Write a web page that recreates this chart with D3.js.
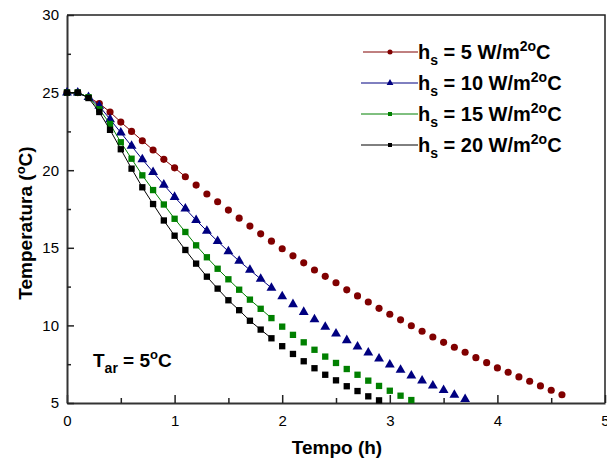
<!DOCTYPE html>
<html>
<head>
<meta charset="UTF-8">
<title></title>
<style type="text/css">
	body { margin: 0; background: #fff; }
	svg text { font-family: "Liberation Sans", Arial, sans-serif; fill: #000; }
</style>
</head>
<body>
<svg class="chart"></svg>
<script src="https://cdn.jsdelivr.net/npm/d3@7/dist/d3.min.js" type="text/javascript" charset="utf-8"></script>
<script type="text/javascript">
	// time step 0.1 h
	var tempo_step = 0.1;
	var h5 = [25, 25, 24.7, 24.3, 23.75, 23.1, 22.5, 21.9, 21.3, 20.7, 20.15, 19.58, 19.04, 18.47, 17.97, 17.43,
		16.91, 16.4, 15.9, 15.43, 14.94, 14.48, 14.03, 13.57, 13.16, 12.75, 12.29, 11.9, 11.51, 11.1, 10.72,
		10.36, 9.98, 9.62, 9.25, 8.91, 8.59, 8.27, 7.92, 7.6, 7.26, 6.98, 6.68, 6.4, 6.1, 5.82, 5.53];
	var h10 = [25, 25, 24.7, 24.14, 23.28, 22.42, 21.56, 20.7, 19.88, 19.06, 18.27, 17.52, 16.78, 16.09, 15.42,
		14.77, 14.15, 13.57, 12.99, 12.42, 11.87, 11.36, 10.86, 10.39, 9.9, 9.47, 9.04, 8.63, 8.24, 7.86, 7.47,
		7.13, 6.76, 6.44, 6.12, 5.82, 5.52, 5.24];
	var h15 = [25, 25, 24.7, 23.93, 22.98, 21.8, 20.74, 19.67, 18.72, 17.79, 16.87, 16.02, 15.16, 14.39, 13.65,
		12.97, 12.3, 11.66, 11.07, 10.47, 9.92, 9.39, 8.91, 8.43, 7.99, 7.58, 7.19, 6.82, 6.44, 6.1, 5.79, 5.47, 5.19];
	var h20 = [25, 25, 24.65, 23.75, 22.6, 21.35, 20.1, 18.9, 17.82, 16.76, 15.78, 14.86, 13.98, 13.14, 12.37,
		11.62, 10.98, 10.3, 9.73, 9.17, 8.66, 8.16, 7.69, 7.24, 6.82, 6.46, 6.08, 5.77, 5.43, 5.17];
	var hs_values = ["5", "10", "15", "20"];
	var x_ticks = [0, 1, 2, 3, 4, 5];
	var y_ticks = [5, 10, 15, 20, 25, 30];

	var width = 607, height = 459;
	var svg = d3.select('.chart').attr("width", width).attr("height", height);

	var x = d3.scaleLinear().domain([0, 5]).range([67, 605]);
	var y = d3.scaleLinear().domain([5, 30]).range([403, 15]);

	var series = [
		{ data: h5, color: "#800000", symbol: d3.symbolCircle, size: 40, lsize: 20, line_n: 12 },
		{ data: h10, color: "#000080", symbol: d3.symbolTriangle, size: 42, lsize: 20, line_n: 20 },
		{ data: h15, color: "#008000", symbol: d3.symbolSquare, size: 40, lsize: 16, line_n: 20 },
		{ data: h20, color: "#000000", symbol: d3.symbolSquare, size: 40, lsize: 16, line_n: 20 }
	];

	// frame
	svg.append("path")
		.attr("d", "M" + x(0) + "," + y(30) + "H" + x(5) + "V" + y(5))
		.attr("fill", "none").attr("stroke", "#222").attr("stroke-width", 1.5);

	svg.append("g").attr("transform", "translate(0," + y(5) + ")")
		.call(d3.axisBottom(x).tickValues(x_ticks).tickSizeInner(-8).tickSizeOuter(0).tickPadding(12).tickFormat(d3.format("d")));
	svg.append("g").attr("transform", "translate(0," + y(5) + ")")
		.call(d3.axisBottom(x).tickValues(d3.range(0.5, 5, 1)).tickSize(-5).tickFormat(""))
		.select(".domain").remove();
	svg.append("g").attr("transform", "translate(" + x(0) + ",0)")
		.call(d3.axisLeft(y).tickValues(y_ticks).tickSizeInner(-7).tickSizeOuter(0).tickPadding(8));
	svg.append("g").attr("transform", "translate(" + x(0) + ",0)")
		.call(d3.axisLeft(y).tickValues(d3.range(7.5, 30, 5)).tickSize(-4).tickFormat(""))
		.select(".domain").remove();

	svg.selectAll(".domain").attr("stroke", "#333").attr("stroke-width", 2);
	svg.selectAll(".tick line").attr("stroke", "#222").attr("stroke-width", 1.5);
	svg.selectAll(".tick text").style("font-size", "15px").style("font-family", "Liberation Sans, Arial, sans-serif");

	// series
	var line = d3.line().x(function(d, i) { return x(i * tempo_step); }).y(function(d) { return y(d); });
	series.forEach(function(s) {
		svg.append("path")
			.attr("d", line(s.data.slice(0, s.line_n)))
			.attr("fill", "none").attr("stroke", s.color).attr("stroke-width", 1);
		svg.append("g").selectAll("path").data(s.data).enter().append("path")
			.attr("transform", function(d, i) { return "translate(" + x(i * tempo_step) + "," + y(d) + ")"; })
			.attr("d", d3.symbol().type(s.symbol).size(s.size))
			.attr("fill", s.color);
	});

	// legend
	var g_leg = svg.append("g");
	series.forEach(function(s, i) {
		var ly = 52 + i * 31;
		var row = g_leg.append("g").attr("transform", "translate(0," + ly + ")");
		row.append("line").attr("x1", 363 - (i > 0 ? 2 : 0)).attr("x2", 418).attr("y1", 0).attr("y2", 0)
			.attr("stroke", s.color).attr("stroke-width", 1);
		row.append("path").attr("transform", "translate(390,0)")
			.attr("d", d3.symbol().type(s.symbol).size(s.lsize)).attr("fill", s.color);
		var t = row.append("text").attr("x", 418).attr("y", 7)
			.style("font-size", "20px").style("font-weight", "bold");
		t.append("tspan").text("h");
		t.append("tspan").attr("dy", 6).style("font-size", "14px").text("s");
		t.append("tspan").attr("dy", -6).text(" = " + hs_values[i] + " W/m");
		t.append("tspan").attr("dy", -8).style("font-size", "14px").text("2o");
		t.append("tspan").attr("dy", 8).text("C");
	});

	// annotation
	var tar = svg.append("text").attr("x", 93).attr("y", 367)
		.style("font-size", "19px").style("font-weight", "bold");
	tar.append("tspan").text("T");
	tar.append("tspan").attr("dy", 6).style("font-size", "14px").text("ar");
	tar.append("tspan").attr("dy", -6).text(" = 5");
	tar.append("tspan").attr("dy", -8).style("font-size", "13px").text("o");
	tar.append("tspan").attr("dy", 8).text("C");

	// axis titles
	svg.append("text").attr("x", 337).attr("y", 454).attr("text-anchor", "middle")
		.style("font-size", "19px").style("font-weight", "bold").text("Tempo (h)");
	var yt = svg.append("text").attr("transform", "translate(32,223) rotate(-90)").attr("text-anchor", "middle")
		.style("font-size", "19px").style("font-weight", "bold");
	yt.append("tspan").text("Temperatura (");
	yt.append("tspan").attr("dy", -7).style("font-size", "13px").text("o");
	yt.append("tspan").attr("dy", 7).text("C)");
</script>
</body>
</html>
